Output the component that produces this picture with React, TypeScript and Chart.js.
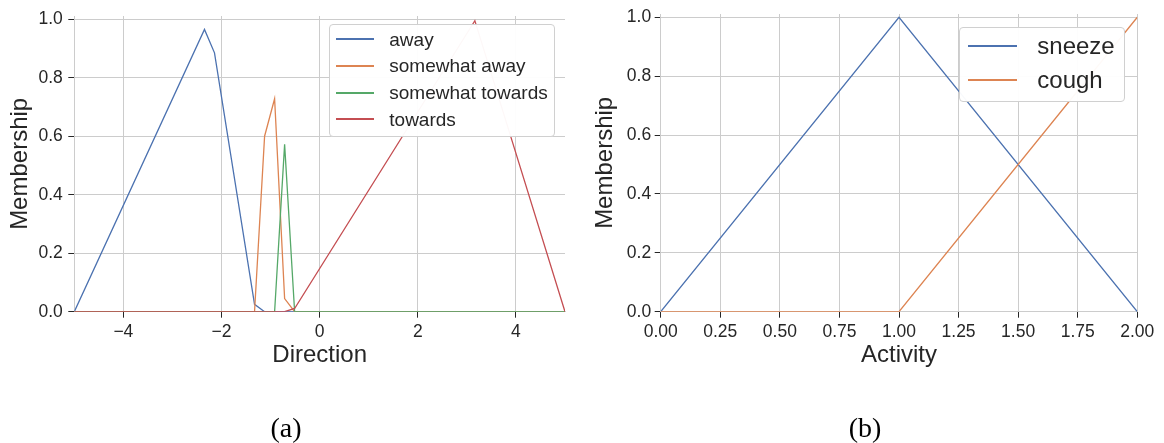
import React, { useEffect, useRef } from 'react';
import { Chart, registerables } from 'chart.js';

Chart.register(...registerables);

// ---------- data ----------
const directionTicks = [-4, -2, 0, 2, 4];
const activityTicks = [0, 0.25, 0.5, 0.75, 1, 1.25, 1.5, 1.75, 2];
const membershipTicks = [0, 0.2, 0.4, 0.6, 0.8, 1.0];

const directionLabels = ['away', 'somewhat away', 'somewhat towards', 'towards'];
const activityLabels = ['sneeze', 'cough'];

const awayX = [-5, -2.347, -2.143, -1.327, -1.122, 5];
const awayY = [0, 0.965, 0.885, 0.025, 0, 0];
const somewhatAwayX = [-5, -1.327, -1.122, -0.918, -0.714, -0.51, 5];
const somewhatAwayY = [0, 0, 0.6, 0.728, 0.045, 0, 0];
const somewhatTowardsX = [-5, -0.918, -0.714, -0.51, 5];
const somewhatTowardsY = [0, 0, 0.572, 0, 0];
const towardsX = [-5, -0.714, -0.51, 3.163, 5];
const towardsY = [0, 0, 0.011, 0.995, 0];

const sneezeX = [0, 1, 2];
const sneezeY = [0, 1, 0];
const coughX = [0, 1, 2];
const coughY = [0, 0, 1];

// ---------- style ----------
const COLORS = ['#4C72B0', '#DD8452', '#55A868', '#C44E52'];
const SANS = '"Liberation Sans", Arial, sans-serif';
const SERIF = '"Liberation Serif", "Times New Roman", serif';
const TEXT = '#262626';
const GRID = '#cccccc';
const H = 443;

const pts = (xs: number[], ys: number[]) => xs.map((x, i) => ({ x, y: ys[i] }));

type PanelProps = {
  left: number;
  width: number;
  series: { label: string; xs: number[]; ys: number[] }[];
  xMin: number;
  xMax: number;
  xTicks: number[];
  xTitle: string;
  xFmt: (v: number) => string;
  yAxisWidth: number;
  yTitlePad: number;
  yTickPad: number;
  padRight: number;
};

function Panel(p: PanelProps) {
  const ref = useRef<HTMLCanvasElement>(null);
  useEffect(() => {
    const plotTop = 14;
    const plotBottom = 311.7;
    const xAxisH = 60;
    const chart = new Chart(ref.current as HTMLCanvasElement, {
      type: 'line',
      data: {
        datasets: p.series.map((s, i) => ({
          label: s.label,
          data: pts(s.xs, s.ys),
          borderColor: COLORS[i],
          backgroundColor: COLORS[i],
          borderWidth: 1.3,
          pointRadius: 0,
          tension: 0,
          fill: false,
          order: -i,
        })),
      },
      options: {
        animation: false,
        responsive: false,
        maintainAspectRatio: false,
        events: [],
        layout: {
          padding: { left: 0, right: p.padRight, top: plotTop, bottom: H - plotBottom - xAxisH },
        },
        plugins: { legend: { display: false }, tooltip: { enabled: false } },
        scales: {
          x: {
            type: 'linear',
            min: p.xMin,
            max: p.xMax,
            afterBuildTicks: (s: any) => {
              s.ticks = p.xTicks.map((v) => ({ value: v }));
            },
            afterFit: (s: any) => {
              s.height = xAxisH;
            },
            grid: { color: GRID, lineWidth: 1, tickColor: TEXT, tickLength: 6, tickWidth: 1 },
            border: { display: true, color: GRID, width: 1 },
            ticks: {
              color: TEXT,
              font: { family: SANS, size: 17.5 },
              padding: 4,
              maxRotation: 0,
              autoSkip: false,
              callback: (v: any) => p.xFmt(Number(v)),
            },
            title: {
              display: true,
              text: p.xTitle,
              color: TEXT,
              font: { family: SANS, size: 24 },
              padding: { top: 0, bottom: 2.3 },
            },
          },
          y: {
            type: 'linear',
            min: 0,
            max: 1.011,
            afterBuildTicks: (s: any) => {
              s.ticks = membershipTicks.map((v) => ({ value: v }));
            },
            afterFit: (s: any) => {
              s.width = p.yAxisWidth;
            },
            grid: { color: GRID, lineWidth: 1, tickColor: TEXT, tickLength: 6, tickWidth: 1 },
            border: { display: true, color: GRID, width: 1 },
            ticks: {
              color: TEXT,
              font: { family: SANS, size: 17.5 },
              padding: p.yTickPad,
              autoSkip: false,
              callback: (v: any) => Number(v).toFixed(1),
            },
            title: {
              display: true,
              text: 'Membership',
              color: TEXT,
              font: { family: SANS, size: 24 },
              padding: { top: p.yTitlePad, bottom: 0 },
            },
          },
        },
      },
    } as any);
    return () => chart.destroy();
  }, []);
  return (
    <canvas
      ref={ref}
      width={p.width}
      height={H}
      style={{ position: 'absolute', left: p.left, top: 0, width: p.width, height: H }}
    />
  );
}

type LegendProps = {
  left: number;
  top: number;
  width: number;
  height: number;
  labels: string[];
  fontSize: number;
  rowStart: number; // center of first row, relative to page
  rowStep: number;
  lineLeft: number;
  lineLen: number;
  textLeft: number;
};

function Legend(l: LegendProps) {
  return (
    <>
      <div
        style={{
          position: 'absolute',
          left: l.left,
          top: l.top,
          width: l.width,
          height: l.height,
          boxSizing: 'border-box',
          border: '1px solid #d0d0d0',
          borderRadius: 4,
          background: 'rgba(255,255,255,0.96)',
        }}
      />
      {l.labels.map((lab, i) => {
        const cy = l.rowStart + i * l.rowStep;
        return (
          <React.Fragment key={lab}>
            <div
              style={{
                position: 'absolute',
                left: Math.round(l.lineLeft),
                top: Math.round(cy) - 1,
                width: l.lineLen,
                height: 1.5,
                background: COLORS[i],
              }}
            />
            <div
              style={{
                position: 'absolute',
                left: l.textLeft,
                top: cy - l.rowStep / 2,
                height: l.rowStep,
                display: 'flex',
                alignItems: 'center',
                fontFamily: SANS,
                fontSize: l.fontSize,
                color: TEXT,
                whiteSpace: 'nowrap',
                lineHeight: 1,
              }}
            >
              {lab}
            </div>
          </React.Fragment>
        );
      })}
    </>
  );
}

const fmtDir = (v: number) => (v < 0 ? '\u2212' + Math.abs(v) : String(v));
const fmtAct = (v: number) => v.toFixed(2);

export default function App() {
  const dirSeries = [
    { label: directionLabels[0], xs: awayX, ys: awayY },
    { label: directionLabels[1], xs: somewhatAwayX, ys: somewhatAwayY },
    { label: directionLabels[2], xs: somewhatTowardsX, ys: somewhatTowardsY },
    { label: directionLabels[3], xs: towardsX, ys: towardsY },
  ];
  const actSeries = [
    { label: activityLabels[0], xs: sneezeX, ys: sneezeY },
    { label: activityLabels[1], xs: coughX, ys: coughY },
  ];
  return (
    <div style={{ position: 'absolute', left: 0, top: 0, width: 1164, height: H, background: '#fff', overflow: 'hidden' }}>
      <Panel
        left={0}
        width={580}
        series={dirSeries}
        xMin={-5}
        xMax={5}
        xTicks={directionTicks}
        xTitle="Direction"
        xFmt={fmtDir}
        yAxisWidth={74.3}
        yTitlePad={6.3}
        yTickPad={5.5}
        padRight={15}
      />
      <Panel
        left={580}
        width={584}
        series={actSeries}
        xMin={0}
        xMax={2}
        xTicks={activityTicks}
        xTitle="Activity"
        xFmt={fmtAct}
        yAxisWidth={80.7}
        yTitlePad={10.6}
        yTickPad={3.5}
        padRight={26.7}
      />
      <Legend
        left={329.3}
        top={24}
        width={226}
        height={112.7}
        labels={directionLabels}
        fontSize={19}
        rowStart={39.3}
        rowStep={26.67}
        lineLeft={336}
        lineLen={38}
        textLeft={389.3}
      />
      <Legend
        left={959}
        top={26.7}
        width={166}
        height={75.6}
        labels={activityLabels}
        fontSize={24}
        rowStart={46}
        rowStep={34}
        lineLeft={968.3}
        lineLen={49}
        textLeft={1037.3}
      />
      <div style={{ position: 'absolute', left: 236, width: 100, top: 413.5, textAlign: 'center', fontFamily: SERIF, fontSize: 28, lineHeight: 1, color: '#000' }}>
        (a)
      </div>
      <div style={{ position: 'absolute', left: 815, width: 100, top: 413.5, textAlign: 'center', fontFamily: SERIF, fontSize: 28, lineHeight: 1, color: '#000' }}>
        (b)
      </div>
    </div>
  );
}
